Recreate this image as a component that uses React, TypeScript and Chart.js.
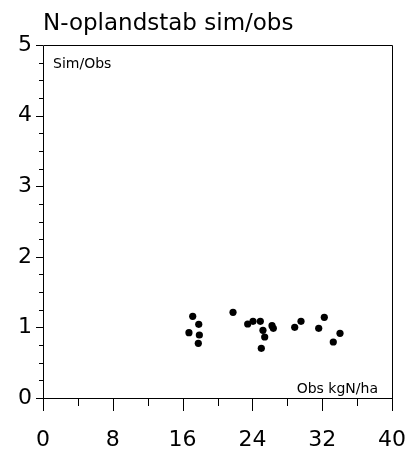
import React, { useEffect, useRef } from "react";
import { Chart, registerables } from "chart.js";

Chart.register(...registerables);

const obsValues = [17.16, 17.85, 16.73, 17.92, 17.8, 21.78, 23.46, 24.07, 24.91, 25.21, 25.41, 25.02, 26.25, 26.4, 28.85, 29.57, 31.6, 32.24, 34.04, 33.27];
const simObsValues = [1.157, 1.044, 0.925, 0.892, 0.775, 1.214, 1.048, 1.086, 1.086, 0.959, 0.864, 0.704, 1.024, 0.987, 1.001, 1.086, 0.987, 1.143, 0.916, 0.793];

const xMajorTicks = [0, 8, 16, 24, 32, 40];
const xMinorTicks = [4, 12, 20, 28, 36];
const yMajorTicks = [0, 1, 2, 3, 4, 5];
const yMinorTicks = [0.25, 0.5, 0.75, 1.25, 1.5, 1.75, 2.25, 2.5, 2.75, 3.25, 3.5, 3.75, 4.25, 4.5, 4.75];

const titleText = "N-oplandstab sim/obs";
const yInnerLabel = "Sim/Obs";
const xInnerLabel = "Obs kgN/ha";

const FONT = "'DejaVu Sans', Verdana, sans-serif";

const framePlugin = {
  id: "frame",
  afterDraw(chart: any) {
    const ctx = chart.ctx;
    const a = chart.chartArea;
    const xs = chart.scales.x;
    const ys = chart.scales.y;
    ctx.save();
    ctx.strokeStyle = "#000";
    ctx.lineWidth = 1;
    ctx.beginPath();
    ctx.rect(a.left + 0.5, a.top + 0.5, a.right - a.left, a.bottom - a.top);
    ctx.stroke();
    ctx.beginPath();
    for (const v of xMajorTicks) {
      const px = Math.round(xs.getPixelForValue(v)) + 0.5;
      ctx.moveTo(px, a.bottom);
      ctx.lineTo(px, a.bottom + 13);
    }
    for (const v of xMinorTicks) {
      const px = Math.round(xs.getPixelForValue(v)) + 0.5;
      ctx.moveTo(px, a.bottom);
      ctx.lineTo(px, a.bottom + 8);
    }
    for (const v of yMajorTicks) {
      const py = Math.round(ys.getPixelForValue(v)) + 0.5;
      ctx.moveTo(a.left - 7, py);
      ctx.lineTo(a.left, py);
    }
    for (const v of yMinorTicks) {
      const py = Math.round(ys.getPixelForValue(v)) + 0.5;
      ctx.moveTo(a.left - 4, py);
      ctx.lineTo(a.left, py);
    }
    ctx.stroke();

    ctx.fillStyle = "#000";
    ctx.font = "23px " + FONT;
    ctx.textAlign = "left";
    ctx.textBaseline = "alphabetic";
    ctx.fillText(titleText, a.left, 30);

    ctx.font = "14px " + FONT;
    ctx.textBaseline = "middle";
    ctx.fillText(yInnerLabel, a.left + 10, a.top + 19);
    ctx.textAlign = "right";
    ctx.fillText(xInnerLabel, a.right - 14, a.bottom - 9);
    ctx.restore();
  },
};

export default function App() {
  const ref = useRef<HTMLCanvasElement | null>(null);
  useEffect(() => {
    if (!ref.current) return;
    const chart = new Chart(ref.current, {
      type: "scatter",
      data: {
        datasets: [
          {
            data: obsValues.map((x, i) => ({ x, y: simObsValues[i] })),
            backgroundColor: "#000",
            borderColor: "#000",
            pointRadius: 3.6,
            pointBorderWidth: 0,
          },
        ],
      },
      options: {
        animation: false,
        responsive: true,
        maintainAspectRatio: false,
        layout: { padding: { top: 45, right: 15, left: 0, bottom: 0 } },
        plugins: { legend: { display: false }, tooltip: { enabled: false }, title: { display: false } },
        scales: {
          x: {
            type: "linear",
            min: 0,
            max: 40,
            afterFit: (s: any) => { s.height = 56; s.paddingLeft = 0; s.paddingRight = 0; },
            afterBuildTicks: (s: any) => { s.ticks = xMajorTicks.map((v) => ({ value: v })); },
            grid: { display: false, drawTicks: false },
            border: { display: false },
            ticks: { font: { family: FONT, size: 22 }, color: "#000", padding: 29, maxRotation: 0, minRotation: 0, autoSkip: false },
          },
          y: {
            type: "linear",
            min: 0,
            max: 5,
            afterFit: (s: any) => { s.width = 43; s.paddingTop = 0; s.paddingBottom = 0; },
            afterBuildTicks: (s: any) => { s.ticks = yMajorTicks.map((v) => ({ value: v })); },
            grid: { display: false, drawTicks: false },
            border: { display: false },
            ticks: { font: { family: FONT, size: 22 }, color: "#000", padding: 11, autoSkip: false },
          },
        },
      },
      plugins: [framePlugin],
    } as any);
    return () => chart.destroy();
  }, []);
  return (
    <div style={{ position: "fixed", left: 0, top: 0, width: 407, height: 454, background: "#fff" }}>
      <canvas ref={ref} />
    </div>
  );
}
